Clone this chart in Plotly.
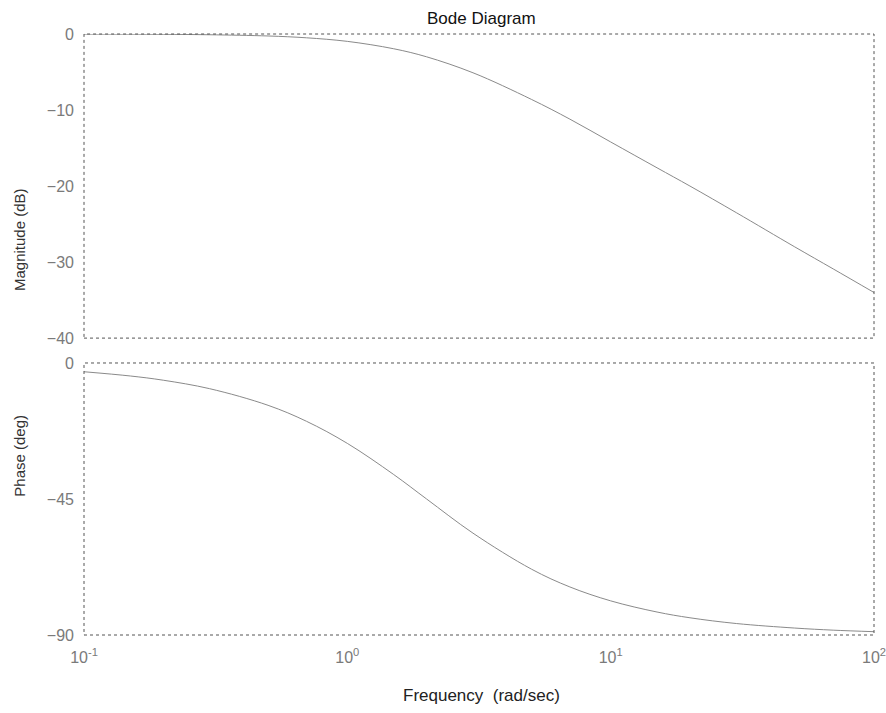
import plotly.graph_objects as go
from plotly.subplots import make_subplots

# Values
freq = [0.1, 0.15, 0.2, 0.3, 0.5, 0.7, 1.0, 1.5, 2.0, 3.0, 5.0, 7.0, 10.0, 15.0, 20.0, 30.0, 50.0, 70.0, 100.0]
magnitude_db = [-0.01, -0.02, -0.04, -0.1, -0.26, -0.5, -0.97, -1.94, -3.0, -5.1, -8.6, -11.2, -14.2,
                -17.6, -20.0, -23.5, -28.0, -30.9, -34.0]
phase_deg = [-2.9, -4.3, -5.7, -8.5, -14.0, -19.3, -26.6, -36.9, -45.0, -56.3, -68.2, -74.1, -78.7,
             -82.4, -84.3, -86.2, -87.7, -88.4, -88.9]

x_tickvals = [0.1, 1, 10, 100]
x_ticktext = ["10<sup>-1</sup>", "10<sup>0</sup>", "10<sup>1</sup>", "10<sup>2</sup>"]
mag_ticks = [0, -10, -20, -30, -40]
phase_ticks = [0, -45, -90]

fig = make_subplots(rows=2, cols=1, shared_xaxes=False, vertical_spacing=0.0)

line_style = dict(color="#8a8a8a", width=1, shape="spline")
fig.add_trace(go.Scatter(x=freq, y=magnitude_db, mode="lines", line=line_style, showlegend=False), row=1, col=1)
fig.add_trace(go.Scatter(x=freq, y=phase_deg, mode="lines", line=line_style, showlegend=False), row=2, col=1)

tick_font = dict(family="Liberation Sans, Arial, sans-serif", size=16, color="#7a7a7a")

common_x = dict(type="log", range=[-1, 2], showgrid=False, zeroline=False, showline=False,
                ticks="", tickvals=x_tickvals, ticktext=x_ticktext, tickfont=tick_font,
                automargin=False, ticklabeloverflow="allow")
common_y = dict(showgrid=False, zeroline=False, showline=False, ticks="", tickfont=tick_font,
                ticklabelstandoff=9, automargin=False)
fig.update_layout(
    xaxis=dict(common_x, showticklabels=False, domain=[0, 1]),
    xaxis2=dict(common_x, showticklabels=True, domain=[0, 1], ticklabelstandoff=11),
    yaxis=dict(common_y, range=[-40, 0], domain=[0.494, 1.0], tickvals=mag_ticks),
    yaxis2=dict(common_y, range=[-90, 0], domain=[0.0, 0.4526], tickvals=phase_ticks),
    width=886, height=713,
    margin=dict(l=84, r=12, t=34, b=78),
    paper_bgcolor="white", plot_bgcolor="white",
    font=dict(family="Liberation Sans, Arial, sans-serif"),
)

# dotted box borders around each panel
for xr, yr in [("x domain", "y domain"), ("x2 domain", "y2 domain")]:
    fig.add_shape(type="rect", xref=xr, yref=yr, x0=0, x1=1, y0=0, y1=1,
                  line=dict(color="#555555", width=1, dash="dot"), layer="above")

fig.add_annotation(text="Bode Diagram", xref="paper", yref="paper", x=0.503, y=1.0,
                   yshift=27, showarrow=False, font=dict(size=17, color="#111111"))
fig.add_annotation(text="Frequency  (rad/sec)", xref="paper", yref="paper", x=0.503, y=0,
                   yshift=-72, showarrow=False, font=dict(size=17, color="#222222"))
fig.add_annotation(text="Magnitude (dB)", xref="paper", yref="paper", x=0, xshift=-75,
                   y=0.747, textangle=-90, showarrow=False, font=dict(size=15, color="#333333"))
fig.add_annotation(text="Phase (deg)", xref="paper", yref="paper", x=0, xshift=-75,
                   y=0.226, textangle=-90, showarrow=False, font=dict(size=15, color="#333333"))

fig.write_html("out.html")
